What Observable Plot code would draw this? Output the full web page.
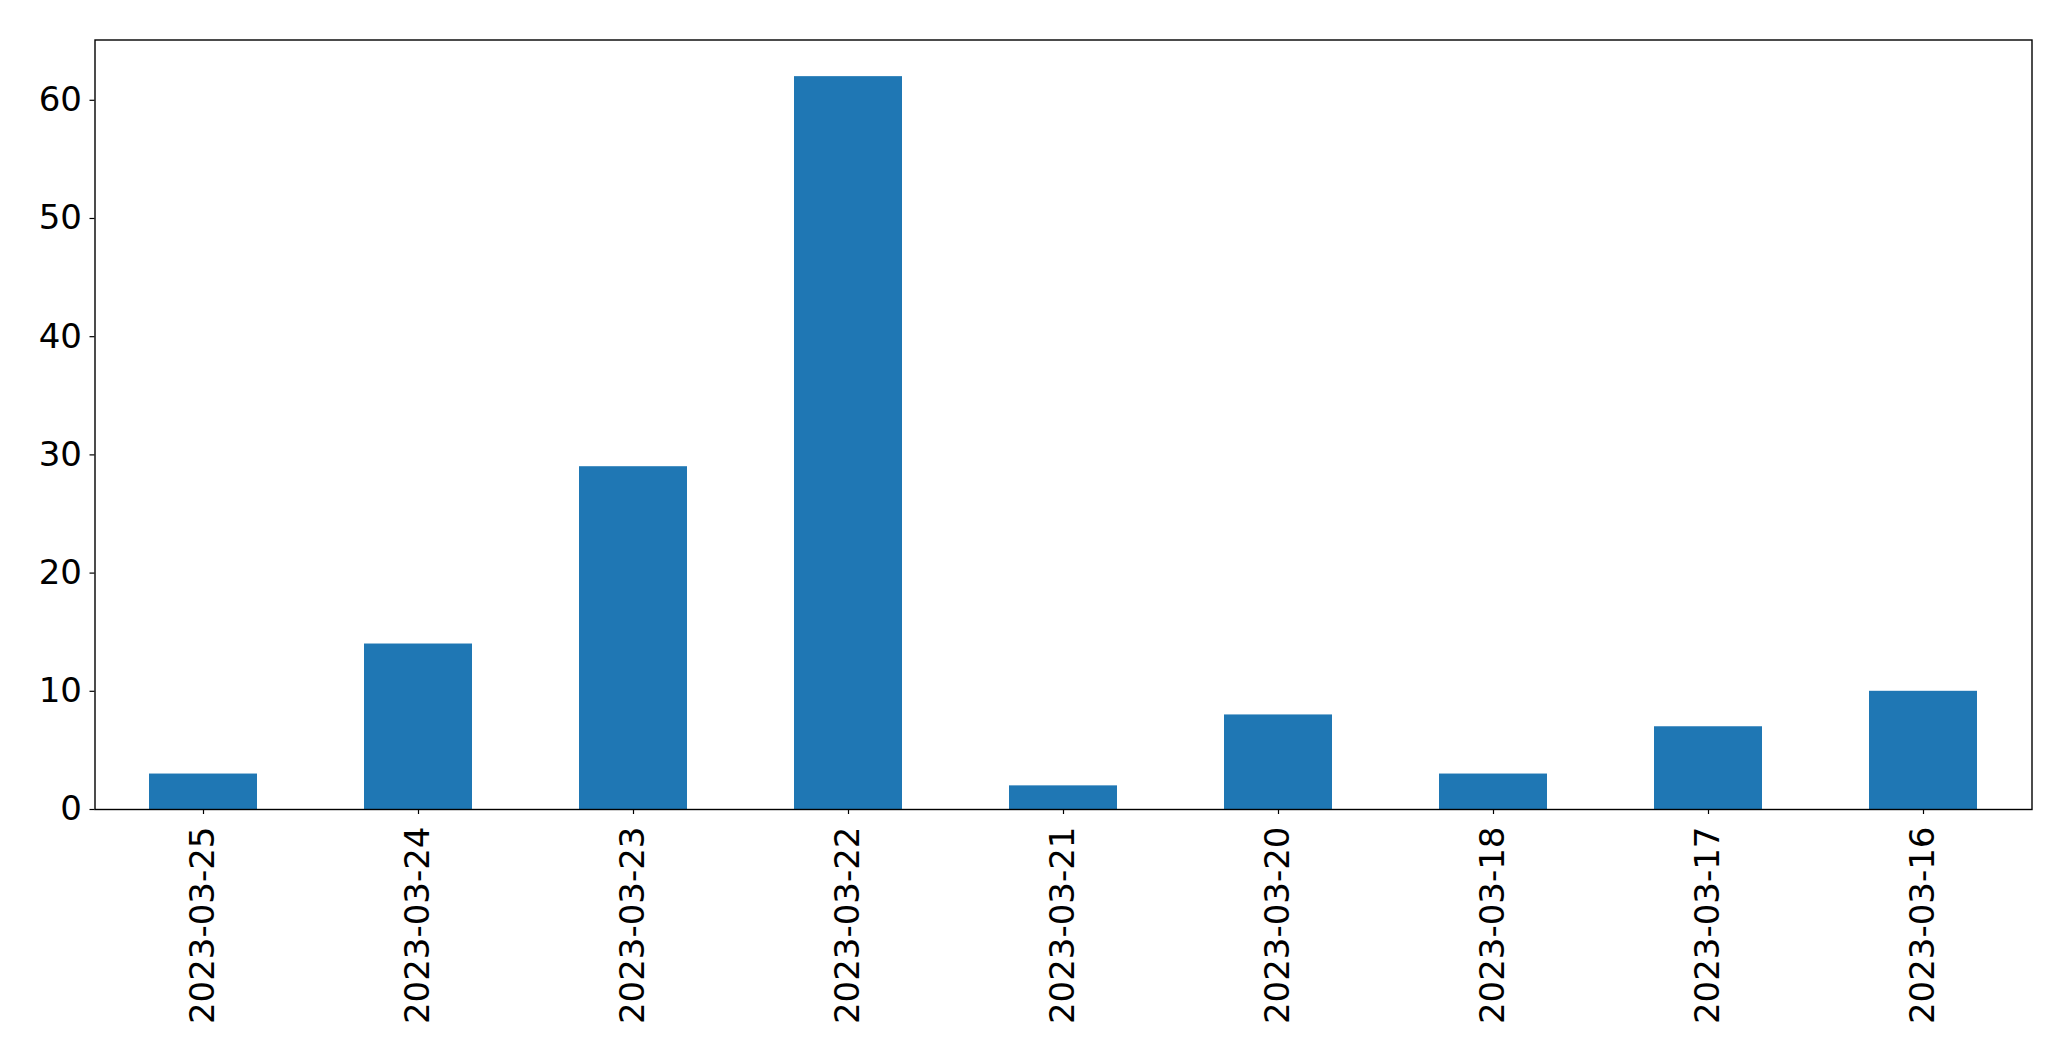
<!DOCTYPE html>
<html>
<head>
<meta charset="utf-8">
<script src="https://cdn.jsdelivr.net/npm/d3@7"></script>
<script src="https://cdn.jsdelivr.net/npm/@observablehq/plot@0.6"></script>
<style>
  html, body { margin: 0; padding: 0; background: #fff; }
  #chart svg { display: block; }
</style>
</head>
<body>
<div id="chart"></div>
<script>
const dates = ["2023-03-25", "2023-03-24", "2023-03-23", "2023-03-22", "2023-03-21", "2023-03-20", "2023-03-18", "2023-03-17", "2023-03-16"];
const counts = [3, 14, 29, 62, 2, 8, 3, 7, 10];
const yTicks = [0, 10, 20, 30, 40, 50, 60];

const data = dates.map((d, i) => ({date: d, count: counts[i]}));

const chart = Plot.plot({
  width: 2071,
  height: 1061,
  marginLeft: 94.5,
  marginRight: 39.5,
  marginTop: 39.5,
  marginBottom: 252,
  style: {fontFamily: "'DejaVu Sans', sans-serif", fontSize: "34px", color: "#000", background: "#fff"},
  x: {domain: dates, paddingInner: 0.5, paddingOuter: 0.25, label: null},
  y: {domain: [0, 65.1], label: null},
  marks: [
    Plot.barY(data, {x: "date", y: "count", fill: "#1f77b4"}),
    Plot.axisY({ticks: yTicks, tickSize: 5, tickPadding: 8, fontSize: "34px", label: null, strokeWidth: 1.2}),
    Plot.axisX({tickSize: 5, tickPadding: 12, tickRotate: -90, fontSize: "34px", label: null, strokeWidth: 1.2}),
    Plot.frame({stroke: "#000", strokeWidth: 1.4})
  ]
});
document.getElementById("chart").appendChild(chart);
</script>
</body>
</html>
